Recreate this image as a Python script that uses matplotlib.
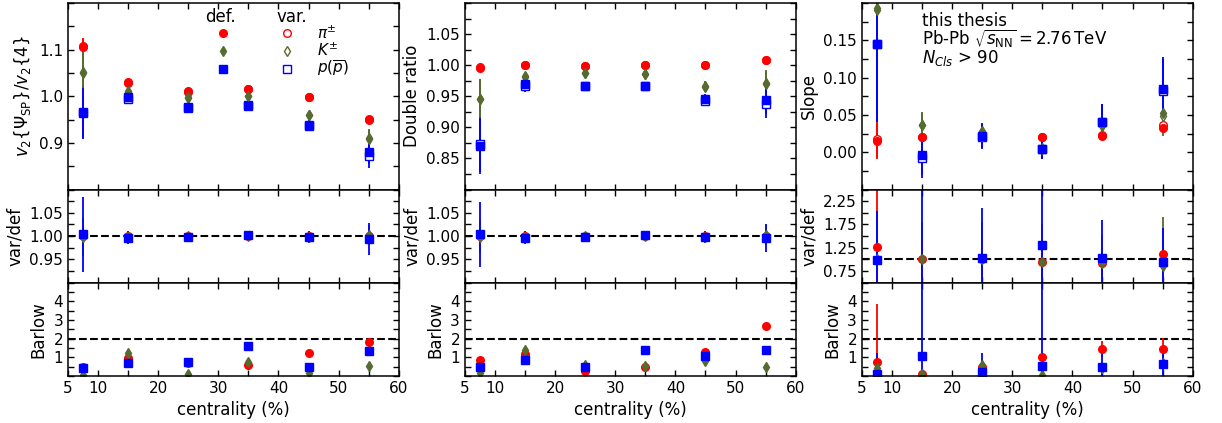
import matplotlib
matplotlib.use('Agg')
import matplotlib.pyplot as plt
from matplotlib.ticker import MultipleLocator, FixedLocator
from matplotlib.lines import Line2D
from matplotlib.legend_handler import HandlerTuple

# ---------------- data ----------------
cent = [7.5, 15, 25, 35, 45, 55]
species_labels = [r'$\pi^{\pm}$', r'$K^{\pm}$', r'$p(\overline{p})$']

# v2{SP}/v2{4}
ratio_pi_def = [1.106, 1.030, 1.011, 1.015, 0.998, 0.951]
ratio_pi_var = [1.108, 1.029, 1.010, 1.016, 0.998, 0.950]
ratio_pi_err = [0.016, 0.004, 0.004, 0.004, 0.004, 0.005]
ratio_K_def = [1.053, 1.012, 0.998, 1.000, 0.960, 0.908]
ratio_K_var = [1.050, 1.010, 0.997, 1.001, 0.959, 0.910]
ratio_K_err = [0.050, 0.006, 0.006, 0.006, 0.008, 0.020]
ratio_p_def = [0.963, 0.998, 0.976, 0.980, 0.938, 0.880]
ratio_p_var = [0.966, 0.995, 0.975, 0.981, 0.937, 0.872]
ratio_p_err = [0.055, 0.010, 0.006, 0.006, 0.010, 0.025]

# Double ratio
dr_pi_def = [0.996, 1.000, 0.999, 0.9995, 1.000, 1.009]
dr_pi_var = [0.997, 1.000, 0.999, 1.000, 1.000, 1.009]
dr_pi_err = [0.005, 0.002, 0.002, 0.002, 0.002, 0.003]
dr_K_def = [0.945, 0.982, 0.988, 0.985, 0.966, 0.970]
dr_K_var = [0.946, 0.981, 0.988, 0.985, 0.965, 0.972]
dr_K_err = [0.032, 0.006, 0.005, 0.005, 0.008, 0.020]
dr_p_def = [0.870, 0.969, 0.966, 0.966, 0.945, 0.944]
dr_p_var = [0.873, 0.966, 0.966, 0.967, 0.943, 0.937]
dr_p_err = [0.045, 0.009, 0.005, 0.006, 0.009, 0.022]

# Slope
sl_pi_def = [0.015, 0.021, 0.021, 0.020, 0.022, 0.033]
sl_pi_var = [0.018, 0.021, 0.020, 0.020, 0.023, 0.036]
sl_pi_err = [0.024, 0.004, 0.004, 0.003, 0.006, 0.005]
sl_K_def = [0.193, 0.037, 0.028, 0.004, 0.036, 0.052]
sl_K_var = [0.190, 0.036, 0.027, 0.005, 0.035, 0.048]
sl_K_err = [0.040, 0.017, 0.010, 0.008, 0.010, 0.026]
sl_p_def = [0.145, -0.004, 0.022, 0.0045, 0.041, 0.085]
sl_p_var = [0.145, -0.008, 0.021, 0.004, 0.040, 0.082]
sl_p_err = [0.105, 0.027, 0.017, 0.013, 0.024, 0.043]

# var/def
vd1_pi = [1.000, 1.000, 1.000, 1.000, 1.000, 1.001]
vd1_pi_err = [0.010, 0.003, 0.002, 0.002, 0.003, 0.005]
vd1_K = [0.998, 0.999, 1.000, 1.000, 0.999, 1.003]
vd1_K_err = [0.040, 0.006, 0.005, 0.005, 0.008, 0.020]
vd1_p = [1.0036, 0.997, 0.9986, 1.002, 0.9986, 0.9936]
vd1_p_err = [0.080, 0.013, 0.008, 0.010, 0.013, 0.035]

vd2_pi = [1.000, 1.000, 1.000, 1.000, 1.000, 1.000]
vd2_pi_err = [0.006, 0.002, 0.002, 0.002, 0.002, 0.004]
vd2_K = [0.999, 0.999, 1.000, 1.000, 0.999, 1.002]
vd2_K_err = [0.035, 0.006, 0.005, 0.005, 0.008, 0.022]
vd2_p = [1.0036, 0.997, 0.999, 1.0014, 0.998, 0.995]
vd2_p_err = [0.070, 0.013, 0.008, 0.008, 0.013, 0.030]

vd3_pi = [1.27, 1.00, 1.00, 0.956, 0.926, 1.11]
vd3_pi_err = [1.50, 0.30, 0.30, 0.30, 0.30, 0.30]
vd3_K = [1.00, 1.00, 1.00, 0.956, 0.930, 0.87]
vd3_K_err = [1.00, 0.80, 0.80, 0.80, 0.60, 1.04]
vd3_p = [0.985, 3.20, 1.03, 1.30, 1.03, 0.95]
vd3_p_err = [1.05, 3.00, 1.07, 1.60, 0.81, 0.73]

# Barlow
bw1_pi = [0.51, 0.95, 0.68, 0.60, 1.21, 1.82]
bw1_K = [0.07, 1.21, 0.10, 0.74, 0.16, 0.56]
bw1_p = [0.42, 0.68, 0.77, 1.60, 0.47, 1.35]

bw2_pi = [0.86, 1.16, 0.25, 0.47, 1.30, 2.70]
bw2_K = [0.16, 1.39, 0.60, 0.54, 0.81, 0.47]
bw2_p = [0.47, 0.86, 0.47, 1.39, 1.07, 1.42]

bw3_pi = [0.77, 0.12, 0.51, 1.00, 1.44, 1.44]
bw3_pi_err = [3.10, 0.10, 0.10, 0.10, 0.42, 0.60]
bw3_K = [0.42, 0.12, 0.60, 0.07, 0.42, 0.72]
bw3_K_err = [0.30, 0.10, 0.20, 0.10, 0.20, 0.30]
bw3_p = [0.12, 1.09, 0.21, 0.54, 0.51, 0.63]
bw3_p_err = [1.10, 10.0, 1.00, 10.0, 1.15, 1.00]

# ---------------- style ----------------
red, green, blue = '#ff0000', '#556b2f', '#0000ff'
styles = [('o', red, 5.5), ('d', green, 5.3), ('s', blue, 5.3)]
ELW = 1.3

fig, axes = plt.subplots(
    3, 3, figsize=(12.22, 4.23), dpi=100, sharex=True,
    gridspec_kw=dict(height_ratios=[2, 1, 1], hspace=0, wspace=0.2,
                     left=0.0556, right=0.976, top=0.993, bottom=0.111))


def top_panel(ax, defs, vars_, errs):
    for (m, c, ms), v, e in zip(styles, vars_, errs):
        ax.errorbar(cent, v, yerr=e, fmt=m, color=c, mfc='white', mec=c,
                    ms=ms, mew=1.0, elinewidth=ELW)
    for (m, c, ms), d, e in zip(styles, defs, errs):
        ax.errorbar(cent, d, yerr=e, fmt=m, color=c, ms=ms, elinewidth=ELW)


def low_panel(ax, vals, errs=None):
    for i, ((m, c, ms), v) in enumerate(zip(styles, vals)):
        if errs is None:
            ax.plot(cent, v, m, color=c, ms=ms)
        else:
            ax.errorbar(cent, v, yerr=errs[i], fmt=m, color=c, ms=ms,
                        elinewidth=ELW)


top_panel(axes[0, 0], [ratio_pi_def, ratio_K_def, ratio_p_def],
          [ratio_pi_var, ratio_K_var, ratio_p_var],
          [ratio_pi_err, ratio_K_err, ratio_p_err])
top_panel(axes[0, 1], [dr_pi_def, dr_K_def, dr_p_def],
          [dr_pi_var, dr_K_var, dr_p_var],
          [dr_pi_err, dr_K_err, dr_p_err])
top_panel(axes[0, 2], [sl_pi_def, sl_K_def, sl_p_def],
          [sl_pi_var, sl_K_var, sl_p_var],
          [sl_pi_err, sl_K_err, sl_p_err])

low_panel(axes[1, 0], [vd1_pi, vd1_K, vd1_p], [vd1_pi_err, vd1_K_err, vd1_p_err])
low_panel(axes[1, 1], [vd2_pi, vd2_K, vd2_p], [vd2_pi_err, vd2_K_err, vd2_p_err])
low_panel(axes[1, 2], [vd3_pi, vd3_K, vd3_p], [vd3_pi_err, vd3_K_err, vd3_p_err])

low_panel(axes[2, 0], [bw1_pi, bw1_K, bw1_p])
low_panel(axes[2, 1], [bw2_pi, bw2_K, bw2_p])
low_panel(axes[2, 2], [bw3_pi, bw3_K, bw3_p], [bw3_pi_err, bw3_K_err, bw3_p_err])

for ax in axes[1]:
    ax.axhline(1.0, color='black', ls='--', lw=1.5, zorder=0.5)
for ax in axes[2]:
    ax.axhline(2.0, color='black', ls='--', lw=1.5, zorder=0.5)

# axis limits and ticks
axes[0, 0].set_ylim(0.8, 1.2)
axes[0, 0].set_yticks([0.9, 1.0, 1.1])
axes[0, 0].yaxis.set_minor_locator(MultipleLocator(0.05))
axes[0, 1].set_ylim(0.8, 1.1)
axes[0, 1].set_yticks([0.85, 0.90, 0.95, 1.00, 1.05])
axes[0, 1].yaxis.set_minor_locator(MultipleLocator(0.025))
axes[0, 2].set_ylim(-0.05, 0.2)
axes[0, 2].set_yticks([0.0, 0.05, 0.10, 0.15])
axes[0, 2].yaxis.set_minor_locator(MultipleLocator(0.025))
for ax in axes[1, :2]:
    ax.set_ylim(0.9, 1.1)
    ax.set_yticks([0.95, 1.00, 1.05])
    ax.yaxis.set_minor_locator(MultipleLocator(0.025))
axes[1, 2].set_ylim(0.5, 2.5)
axes[1, 2].set_yticks([0.75, 1.25, 1.75, 2.25])
axes[1, 2].yaxis.set_minor_locator(MultipleLocator(0.25))
for ax in axes[2]:
    ax.set_ylim(0, 5)
    ax.set_yticks([1, 2, 3, 4])
    ax.yaxis.set_minor_locator(MultipleLocator(0.5))

for ax in axes.flat:
    ax.set_xlim(5, 60)
    ax.set_xticks([5, 10, 20, 30, 40, 50, 60])
    ax.xaxis.set_minor_locator(FixedLocator([15, 25, 35, 45, 55]))
    ax.tick_params(which='both', direction='in', top=True, right=True,
                   length=4, width=1, labelsize=11)
    for s in ax.spines.values():
        s.set_linewidth(1.1)

for ax in axes[2]:
    ax.set_xlabel('centrality (%)', fontsize=12)

axes[0, 0].set_ylabel(r'$v_2\{\Psi_{\rm SP}\}/v_2\{4\}$', fontsize=12)
axes[0, 1].set_ylabel('Double ratio', fontsize=12)
axes[0, 2].set_ylabel('Slope', fontsize=12)
for ax in axes[1]:
    ax.set_ylabel('var/def', fontsize=12)
for ax in axes[2]:
    ax.set_ylabel('Barlow', fontsize=12)

# legend
ax = axes[0, 0]
handles = []
for m, c, ms in styles:
    hd = Line2D([], [], marker=m, color=c, ls='none', ms=ms)
    hv = Line2D([], [], marker=m, color=c, mfc='white', mec=c, ls='none', ms=ms)
    handles.append((hd, hv))
ax.legend(handles, species_labels, loc='upper left', bbox_to_anchor=(0.451, 0.885),
          frameon=False, fontsize=11, numpoints=1, handlelength=4.92,
          handletextpad=1.61, labelspacing=0.0, borderpad=0, borderaxespad=0,
          handler_map={tuple: HandlerTuple(ndivide=None, pad=3.5)})
ax.text(0.461, 0.925, 'def.', transform=ax.transAxes, ha='center', va='center', fontsize=12)
ax.text(0.678, 0.925, 'var.', transform=ax.transAxes, ha='center', va='center', fontsize=12)

ax = axes[0, 2]
ax.text(0.183, 0.903, 'this thesis', transform=ax.transAxes, va='center', fontsize=12)
ax.text(0.183, 0.808, r'Pb-Pb $\sqrt{s_{\rm NN}}=2.76\,$TeV', transform=ax.transAxes,
        va='center', fontsize=12)
ax.text(0.183, 0.705, r'$N_{Cls}$ > 90', transform=ax.transAxes, va='center', fontsize=12)

fig.savefig('out.png', dpi=100)
